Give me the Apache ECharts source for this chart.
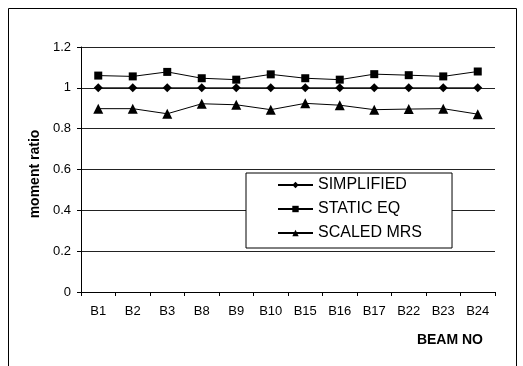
<!DOCTYPE html>
<html>
<head>
<meta charset="utf-8">
<script src="https://cdn.jsdelivr.net/npm/echarts@6/dist/echarts.min.js"></script>
<style>
  html, body { margin: 0; padding: 0; background: #fff; }
  #chart { width: 523px; height: 366px; }
</style>
</head>
<body>
<div id="chart"></div>
<script>
// beam numbers on the x axis
var beams = ['B1', 'B2', 'B3', 'B8', 'B9', 'B10', 'B15', 'B16', 'B17', 'B22', 'B23', 'B24'];

// moment ratios
var simplified = [1, 1, 1, 1, 1, 1, 1, 1, 1, 1, 1, 1];
var staticEq   = [1.06, 1.056, 1.078, 1.047, 1.04, 1.066, 1.047, 1.04, 1.067, 1.062, 1.056, 1.08];
var scaledMrs  = [0.898, 0.898, 0.873, 0.922, 0.917, 0.893, 0.924, 0.915, 0.893, 0.896, 0.898, 0.871];

var chart = echarts.init(document.getElementById('chart'));

var font = 'Liberation Sans, Arial, sans-serif';

function lineSeries(name, data, symbol, size) {
    return {
        name: name,
        type: 'line',
        data: data,
        symbol: symbol,
        symbolSize: size,
        animation: false,
        lineStyle: { color: '#000', width: 1 },
        itemStyle: { color: '#000' }
    };
}

var option = {
    backgroundColor: '#fff',
    textStyle: { fontFamily: font },
    graphic: [
        {
            // outer frame of the figure
            type: 'rect',
            shape: { x: 8.5, y: 8.5, width: 508, height: 420 },
            style: { fill: 'none', stroke: '#000', lineWidth: 1 },
            z: 100
        }
    ],
    grid: {
        left: 81,
        right: 28,
        top: 47,
        bottom: 74
    },
    legend: {
        orient: 'vertical',
        left: 246,
        top: 173,
        backgroundColor: '#fff',
        borderColor: '#000',
        borderWidth: 1,
        borderRadius: 0,
        padding: [4, 30, 7, 31],
        itemWidth: 35,
        itemHeight: 8,
        itemGap: 8,
        textStyle: { fontFamily: font, fontSize: 16, color: '#000' },
        data: ['SIMPLIFIED', 'STATIC EQ', 'SCALED MRS']
    },
    xAxis: {
        type: 'category',
        data: beams,
        boundaryGap: true,
        name: 'BEAM NO',
        nameLocation: 'end',
        nameGap: 0,
        nameTextStyle: {
            fontFamily: font,
            fontSize: 14,
            fontWeight: 'bold',
            color: '#000',
            align: 'right',
            verticalAlign: 'top',
            padding: [41, 12, 0, 0]
        },
        axisLine: { lineStyle: { color: '#000', width: 1 } },
        axisTick: { show: true, inside: false, length: 4, alignWithLabel: false, lineStyle: { color: '#000' } },
        axisLabel: { color: '#000', fontSize: 13, fontFamily: font, margin: 13 },
        splitLine: { show: false }
    },
    yAxis: {
        type: 'value',
        min: 0,
        max: 1.2,
        interval: 0.2,
        name: 'moment ratio',
        nameLocation: 'middle',
        nameGap: 38,
        nameRotate: 90,
        nameTextStyle: { fontFamily: font, fontSize: 14, fontWeight: 'bold', color: '#000', padding: [0, 9, 0, 0] },
        axisLine: { show: true, lineStyle: { color: '#000', width: 1 } },
        axisTick: { show: true, length: 4, lineStyle: { color: '#000' } },
        axisLabel: {
            color: '#000',
            fontSize: 13,
            fontFamily: font,
            margin: 10,
            formatter: function (v) { return String(Math.round(v * 10) / 10); }
        },
        splitLine: { show: true, lineStyle: { color: '#222', width: 1 } }
    },
    series: [
        lineSeries('SIMPLIFIED', simplified, 'diamond', 9),
        lineSeries('STATIC EQ', staticEq, 'rect', 8),
        lineSeries('SCALED MRS', scaledMrs, 'triangle', 10)
    ]
};

chart.setOption(option);
</script>
</body>
</html>
